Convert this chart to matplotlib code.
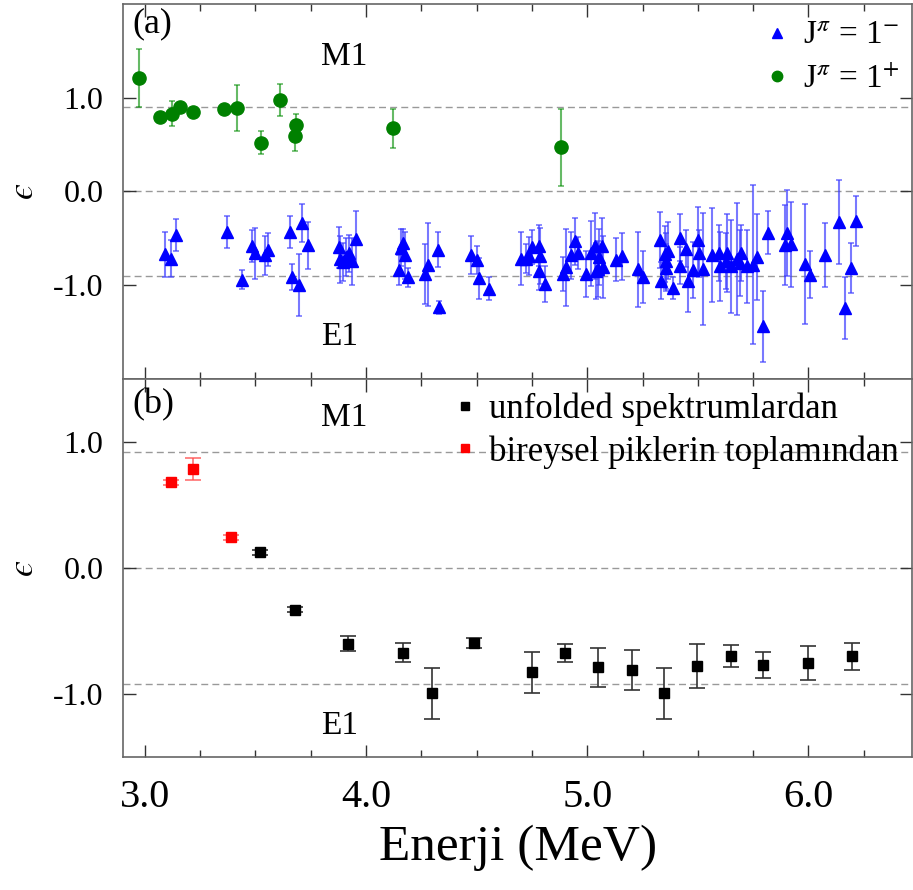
import numpy as np
import matplotlib
matplotlib.use("Agg")
import matplotlib.pyplot as plt
from matplotlib.lines import Line2D
from matplotlib.ticker import MultipleLocator, FixedLocator, FormatStrFormatter

plt.rcParams['font.family'] = ['Liberation Serif', 'DejaVu Serif']
plt.rcParams['mathtext.fontset'] = 'stix'

# panel (a): J=1+ (green)
e_plus = [2.974, 3.069, 3.125, 3.160, 3.218, 3.360, 3.418, 3.524, 3.611, 3.683, 3.680, 4.121, 4.881]
eps_plus = [1.21, 0.79, 0.83, 0.90, 0.85, 0.885, 0.89, 0.52, 0.98, 0.71, 0.59, 0.675, 0.47]
err_plus = [0.31, 0.03, 0.13, 0.03, 0.03, 0.04, 0.245, 0.12, 0.17, 0.12, 0.16, 0.21, 0.41]

# panel (a): J=1- (blue)
e_minus = [3.090, 3.120, 3.143, 3.373, 3.440, 3.486, 3.500, 3.545, 3.557, 3.655,
           3.665, 3.697, 3.712, 3.737, 3.876, 3.884, 3.895, 3.910, 3.922, 3.936,
           3.955, 4.147, 4.159, 4.166, 4.174, 4.190, 4.267, 4.282, 4.324, 4.332,
           4.475, 4.502, 4.511, 4.558, 4.700, 4.723, 4.735, 4.750, 4.780, 4.788,
           4.783, 4.809, 4.890, 4.906, 4.926, 4.946, 4.956, 4.994, 5.017, 5.035,
           5.039, 5.050, 5.054, 5.066, 5.072, 5.130, 5.157, 5.230, 5.254, 5.328,
           5.332, 5.352, 5.355, 5.358, 5.363, 5.388, 5.418, 5.420, 5.448, 5.457,
           5.480, 5.499, 5.503, 5.525, 5.566, 5.596, 5.600, 5.626, 5.633, 5.649,
           5.679, 5.690, 5.694, 5.720, 5.750, 5.766, 5.796, 5.816, 5.894, 5.904,
           5.920, 5.983, 6.007, 6.073, 6.138, 6.165, 6.193, 6.216]
eps_minus = [-0.67, -0.715, -0.46, -0.435, -0.94, -0.58, -0.66, -0.68, -0.62, -0.435,
             -0.915, -1.00, -0.335, -0.575, -0.595, -0.725, -0.75, -0.70, -0.66, -0.745,
             -0.51, -0.84, -0.60, -0.55, -0.68, -0.915, -0.88, -0.78, -0.62, -1.235,
             -0.68, -0.73, -0.925, -1.035, -0.715, -0.715, -0.69, -0.595, -0.58, -0.69,
             -0.85, -0.985, -0.88, -0.81, -0.68, -0.53, -0.66, -0.88, -0.66, -0.58,
             -0.85, -0.825, -0.70, -0.58, -0.81, -0.73, -0.69, -0.83, -0.91, -0.52,
             -0.95, -0.67, -0.74, -0.815, -0.63, -1.03, -0.79, -0.495, -0.61, -0.96,
             -0.84, -0.52, -0.66, -0.825, -0.68, -0.66, -0.80, -0.74, -0.655, -0.80,
             -0.72, -0.76, -0.66, -0.80, -0.78, -0.70, -1.44, -0.44, -0.57, -0.44,
             -0.565, -0.77, -0.89, -0.68, -0.325, -1.24, -0.815, -0.315]
err_minus = [0.24, 0.20, 0.17, 0.17, 0.10, 0.17, 0.27, 0.21, 0.18, 0.17,
             0.14, 0.33, 0.20, 0.25, 0.22, 0.25, 0.20, 0.20, 0.20, 0.25,
             0.30, 0.16, 0.20, 0.15, 0.25, 0.10, 0.32, 0.44, 0.19, 0.07,
             0.20, 0.15, 0.22, 0.12, 0.28, 0.15, 0.20, 0.18, 0.22, 0.30,
             0.20, 0.19, 0.18, 0.41, 0.25, 0.25, 0.17, 0.25, 0.35, 0.35,
             0.30, 0.30, 0.30, 0.30, 0.33, 0.23, 0.25, 0.40, 0.28, 0.30,
             0.20, 0.30, 0.30, 0.25, 0.30, 0.12, 0.20, 0.25, 0.20, 0.33,
             0.30, 0.35, 0.25, 0.60, 0.50, 0.30, 0.37, 0.30, 0.42, 0.50,
             0.60, 0.35, 0.30, 0.39, 0.85, 0.46, 0.38, 0.23, 0.43, 0.46,
             0.45, 0.64, 0.25, 0.34, 0.45, 0.33, 0.27, 0.27]

# panel (b)
e_sum = [3.12, 3.22, 3.39]
eps_sum = [0.68, 0.786, 0.244]
err_sum = [0.02, 0.09, 0.02]

e_unf = [3.522, 3.680, 3.918, 4.168, 4.297, 4.490, 4.749, 4.899, 5.047, 5.200,
         5.349, 5.498, 5.649, 5.796, 5.999, 6.198]
eps_unf = [0.125, -0.333, -0.60, -0.672, -0.995, -0.595, -0.828, -0.675, -0.788, -0.807,
           -0.995, -0.775, -0.696, -0.77, -0.754, -0.70]
err_unf = [0.02, 0.02, 0.062, 0.073, 0.20, 0.04, 0.16, 0.073, 0.155, 0.16,
           0.20, 0.175, 0.086, 0.10, 0.135, 0.106]

fig = plt.figure(figsize=(9.13, 8.9), dpi=100)
ax1 = fig.add_axes([0.1344, 0.5742, 0.865, 0.4213])
ax2 = fig.add_axes([0.1344, 0.1494, 0.865, 0.4248])

spine_col = '#666666'
for ax in (ax1, ax2):
    ax.set_xlim(2.9, 6.47)
    ax.xaxis.set_major_locator(MultipleLocator(1.0))
    ax.xaxis.set_minor_locator(MultipleLocator(0.25))
    ax.xaxis.set_major_formatter(FormatStrFormatter('%.1f'))
    ax.yaxis.set_major_locator(FixedLocator([-1.0, 0.0, 1.0]))
    ax.yaxis.set_major_formatter(FormatStrFormatter('%.1f'))
    ax.tick_params(which='both', direction='in', top=True, right=True, color='#333333')
    ax.tick_params(which='major', length=9, width=1, labelsize=23, pad=14)
    ax.tick_params(which='minor', length=5, width=1)
    ax.tick_params(axis='x', which='major', labelsize=29, pad=16)
    for s in ax.spines.values():
        s.set_color(spine_col)
        s.set_linewidth(1.2)
    ax.set_ylabel('$\u03f5$', fontsize=26)
    ax.yaxis.set_label_coords(-0.104, 0.5)

# top panel
ax1.set_ylim(-2.0, 2.0)
for yv in (0.9, 0.0, -0.9):
    ax1.axhline(yv, color='#999999', lw=1, ls=(0, (5, 3)), zorder=0)
ax1.errorbar(e_minus, eps_minus, yerr=err_minus, fmt='^', color='blue', ms=9,
             ecolor=(0.25, 0.25, 1.0, 0.7), elinewidth=1.5, capsize=2, capthick=1.2)
ax1.errorbar(e_plus, eps_plus, yerr=err_plus, fmt='o', color='green', ms=9.5,
             ecolor=(0.0, 0.55, 0.0, 0.6), elinewidth=1.5, capsize=2, capthick=1.2)
ax1.tick_params(axis='x', labelbottom=False)
ax1.text(0.012, 0.99, '(a)', transform=ax1.transAxes, fontsize=26, va='top', ha='left')
ax1.text(3.90, 1.44, 'M1', fontsize=24, ha='center', va='center')
ax1.text(3.88, -1.55, 'E1', fontsize=24, ha='center', va='center')
h1 = [Line2D([], [], ls='none', marker='^', color='blue', ms=7.5),
      Line2D([], [], ls='none', marker='o', color='green', ms=7.5)]
ax1.legend(h1, [r'J$^{\pi}$ = 1$^{-}$', r'J$^{\pi}$ = 1$^{+}$'], loc='upper right',
           frameon=False, fontsize=24, handlelength=0.8, handletextpad=0.4,
           borderaxespad=0.1, labelspacing=0.4, bbox_to_anchor=(1.005, 1.0))

# bottom panel
ax2.set_ylim(-1.5, 1.5)
for yv in (0.92, 0.0, -0.92):
    ax2.axhline(yv, color='#999999', lw=1, ls=(0, (5, 3)), zorder=0)
ax2.errorbar(e_unf, eps_unf, yerr=err_unf, fmt='s', color='black', ms=6.5,
             ecolor='#333333', elinewidth=1.2, capsize=6, capthick=1.2)
ax2.errorbar(e_sum, eps_sum, yerr=err_sum, fmt='s', color='red', ms=6.5,
             ecolor=(1.0, 0.3, 0.3, 0.8), elinewidth=1.2, capsize=6, capthick=1.2)
ax2.text(0.012, 0.975, '(b)', transform=ax2.transAxes, fontsize=26, va='top', ha='left')
ax2.text(3.90, 1.19, 'M1', fontsize=24, ha='center', va='center')
ax2.text(3.88, -1.25, 'E1', fontsize=24, ha='center', va='center')
h2 = [Line2D([], [], ls='none', marker='s', color='black', ms=6),
      Line2D([], [], ls='none', marker='s', color='red', ms=6)]
ax2.legend(h2, ['unfolded spektrumlardan', 'bireysel piklerin toplamından'],
           loc='upper right', frameon=False, fontsize=25, handlelength=0.6,
           handletextpad=0.4, borderaxespad=0.0, labelspacing=0.25,
           bbox_to_anchor=(1.0, 1.0))
ax2.set_xlabel('Enerji (MeV)', fontsize=37, labelpad=6)

fig.savefig('out.png', dpi=100)
